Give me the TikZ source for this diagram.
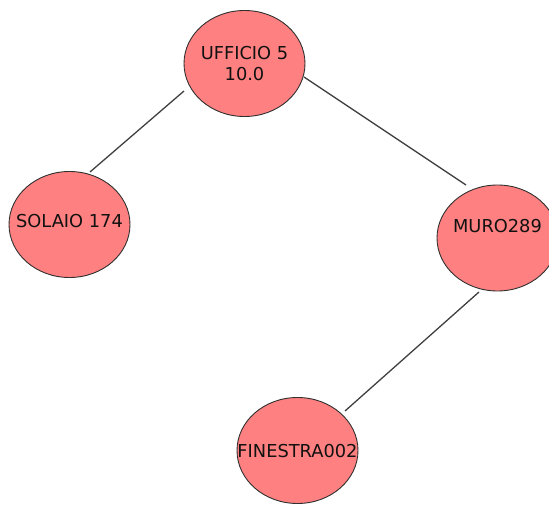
\documentclass[tikz,border=0pt]{standalone}
\usepackage{fontspec}
\setmainfont{DejaVu Sans}
\usetikzlibrary{shapes.geometric}
\definecolor{nodefill}{HTML}{FF8080}
\definecolor{rim}{HTML}{303030}
\definecolor{wire}{HTML}{404040}
\definecolor{ink}{HTML}{111111}
\begin{document}
\begin{tikzpicture}[x=1pt,y=-1pt,
  entity/.style={ellipse, draw=rim, line width=0.9pt, fill=nodefill,
    minimum width=121pt, minimum height=106pt, inner sep=0pt},
  caption/.style={anchor=base, inner sep=0pt, text=ink,
    font=\fontsize{17.8}{20}\selectfont},
  link/.style={draw=wire, line width=1.3pt}]
\useasboundingbox (0,0) rectangle (549,505);

% entities
\node[entity] (u) at (244.5,63.5) {};
\node[entity] (s) at (69.5,224.5) {};
\node[entity] (m) at (497.5,238) {};
\node[entity] (f) at (297.5,450.5) {};

% captions
\node[caption] (u1) at (244.5,60) {UFFICIO 5};
\node[caption] (u2) at (244.5,81) {10.0};
\node[caption] (st) at (69.5,228) {SOLAIO 174};
\node[caption] (mt) at (497.5,233) {MURO289};
\node[caption] (ft) at (297.5,457) {FINESTRA002};

% relations
\draw[link] ([shift={(-60.5,27.5)}]u.center) -- ([shift={(20.5,-52.5)}]s.center);
\draw[link] ([shift={(59.5,13.5)}]u.center) -- ([shift={(-31.5,-53)}]m.center);
\draw[link] ([shift={(-18.5,54)}]m.center) -- ([shift={(47.5,-39.5)}]f.center);
\end{tikzpicture}
\end{document}
